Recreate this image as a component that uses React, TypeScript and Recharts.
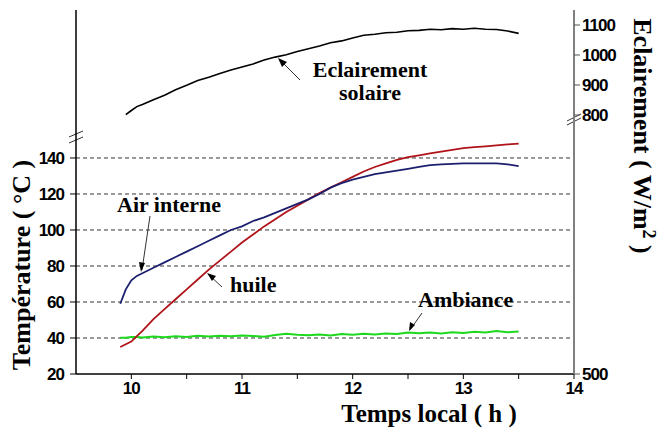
import React from "react";
import { ComposedChart, Line, XAxis, YAxis, CartesianGrid } from "recharts";

const time = [9.9, 9.95, 10.0, 10.05, 10.1, 10.2, 10.3, 10.4, 10.5, 10.6, 10.7, 10.8, 10.9, 11.0, 11.1, 11.2, 11.3, 11.4, 11.5, 11.6, 11.7, 11.8, 11.9, 12.0, 12.1, 12.2, 12.3, 12.4, 12.5, 12.6, 12.7, 12.8, 12.9, 13.0, 13.1, 13.2, 13.3, 13.4, 13.5];
const eclairement = [null, 801, 815, 828, 835, 851, 866, 884, 899, 915, 926, 938, 950, 960, 970, 983, 993, 1001, 1012, 1021, 1030, 1041, 1047, 1057, 1066, 1069, 1074, 1076, 1081, 1082, 1086, 1084, 1088, 1086, 1089, 1086, 1085, 1080, 1072];
const airInterne = [59, 67, 72, 74.5, 76, 79, 82, 85, 88, 91, 94, 97, 100, 102, 105, 107, 109.5, 112, 114.5, 117, 120, 123.5, 126, 128, 129.5, 131, 132, 133, 134, 135, 136, 136.5, 136.7, 137, 137, 137, 137, 136.5, 135.5];
const huile = [35, 36.5, 38, 41, 44, 50.5, 56, 61.5, 67, 72.5, 78, 83, 88, 93, 97.5, 102, 106, 110, 113.5, 117, 120.5, 123.5, 126.5, 129.5, 132.5, 135, 137, 139, 140.5, 141.5, 142.5, 143.5, 144.5, 145.5, 146, 146.5, 147, 147.5, 148];
const ambiance = [40.2, 40.1, 40.5, 40.6, 40.3, 40.8, 40.4, 41.0, 40.6, 41.2, 40.9, 41.3, 41.0, 41.4, 41.1, 40.7, 41.6, 42.3, 41.8, 41.5, 41.9, 41.4, 42.2, 41.8, 42.4, 42.0, 42.5, 42.2, 43.1, 42.6, 43.0, 42.5, 43.2, 42.8, 43.4, 43.0, 43.9, 43.2, 43.6];

const xTicks = [10, 10.5, 11, 11.5, 12, 12.5, 13, 13.5, 14];
const tempTicks = [20, 40, 60, 80, 100, 120, 140];
const gridValues = [40, 60, 80, 100, 120, 140];
const irrTicks = [-63.3, 800, 900, 1000, 1100];
const irrTickLabels = ["500", "800", "900", "1000", "1100"];

const data = time.map((t, i) => ({
  t,
  irr: eclairement[i],
  air: airInterne[i],
  oil: huile[i],
  amb: ambiance[i],
}));

const tickStyle = {
  fontFamily: "Liberation Sans, Arial, sans-serif",
  fontWeight: 700,
  fontSize: 17,
  fill: "#000",
  letterSpacing: -1,
};

const serifBold = {
  fontFamily: "Liberation Serif, Times New Roman, serif",
  fontWeight: 700,
  fill: "#000",
};

export default function App() {
  return (
    <div style={{ position: "absolute", left: 0, top: 0, width: 661, height: 429, background: "#fff" }}>
      <ComposedChart
        width={661}
        height={429}
        data={data}
        margin={{ top: 10, right: 37, bottom: 25, left: 36 }}
      >
        <CartesianGrid
          yAxisId="left"
          vertical={false}
          horizontalValues={gridValues}
          stroke="#333"
          strokeDasharray="4 3"
        />
        <XAxis
          dataKey="t"
          type="number"
          domain={[9.5, 14]}
          ticks={xTicks}
          interval={0}
          allowDataOverflow
          tickFormatter={(v: number) => (Number.isInteger(v) ? String(v) : "")}
          tick={tickStyle}
          tickSize={5}
          tickMargin={3}
          height={30}
          axisLine={{ stroke: "#000", strokeWidth: 1.5 }}
          tickLine={{ stroke: "#000" }}
        />
        <XAxis
          xAxisId="top"
          orientation="top"
          dataKey="t"
          type="number"
          domain={[9.5, 14]}
          tick={false}
          tickLine={false}
          height={0}
          axisLine={{ stroke: "#000" }}
        />
        <YAxis
          yAxisId="left"
          domain={[20, 222.2]}
          ticks={tempTicks}
          interval={0}
          allowDataOverflow
          width={40}
          tick={tickStyle}
          tickSize={6}
          tickMargin={6}
          axisLine={{ stroke: "#000", strokeWidth: 1.5 }}
          tickLine={{ stroke: "#000" }}
        />
        <YAxis
          yAxisId="right"
          orientation="right"
          domain={[-63.3, 1150]}
          ticks={irrTicks}
          interval={0}
          allowDataOverflow
          width={50}
          tick={tickStyle}
          tickFormatter={(v: number) => irrTickLabels[irrTicks.indexOf(v)] ?? String(v)}
          tickSize={6}
          tickMargin={2}
          axisLine={{ stroke: "#808080", strokeWidth: 2 }}
          tickLine={{ stroke: "#555" }}
        />
        <Line yAxisId="right" dataKey="irr" stroke="#000" strokeWidth={1.6} dot={false} isAnimationActive={false} />
        <Line yAxisId="left" dataKey="amb" stroke="#1ed81e" strokeWidth={2} dot={false} isAnimationActive={false} />
        <Line yAxisId="left" dataKey="oil" stroke="#b0141a" strokeWidth={1.8} dot={false} isAnimationActive={false} />
        <Line yAxisId="left" dataKey="air" stroke="#1c1f6e" strokeWidth={1.8} dot={false} isAnimationActive={false} />

        {/* axis break marks */}
        <g stroke="#333" strokeWidth={1}>
          <line x1={69} y1={137} x2={83} y2={131} />
          <line x1={69} y1={143} x2={83} y2={137} />
          <line x1={567} y1={125} x2={581} y2={118} />
          <line x1={567} y1={121} x2={581} y2={114} />
        </g>

        {/* axis titles */}
        <text {...serifBold} fontSize={26} textAnchor="middle" transform="translate(30,265) rotate(-90)">
          Température ( °C )
        </text>
        <text {...serifBold} fontSize={25} textAnchor="middle" x={429} y={422}>
          Temps local ( h )
        </text>
        <text {...serifBold} fontSize={26} textAnchor="middle" transform="translate(634,136) rotate(90)">
          Eclairement ( W/m<tspan dy={-9} fontSize={18}>2</tspan>
          <tspan dy={9}> )</tspan>
        </text>

        {/* annotations */}
        <g stroke="#333" strokeWidth={1} fill="none">
          <line x1={300} y1={80} x2={279} y2={59} />
          <line x1={150} y1={216} x2={142} y2={270} />
          <line x1={222} y1={287} x2={208} y2={274} />
          <line x1={422} y1={313} x2={410} y2={330} />
        </g>
        <g fill="#000">
          <polygon points="278,58 287,62 282,67" />
          <polygon points="141,272 139,262 145,263" />
          <polygon points="207,273 216,276 212,281" />
          <polygon points="409,331 410,322 415,325" />
        </g>
        <text {...serifBold} fontSize={22} textAnchor="middle" x={370} y={77}>Eclairement</text>
        <text {...serifBold} fontSize={22} textAnchor="middle" x={370} y={100}>solaire</text>
        <text {...serifBold} fontSize={22} x={117} y={212}>Air interne</text>
        <text {...serifBold} fontSize={22} x={230} y={292}>huile</text>
        <text {...serifBold} fontSize={22} x={418} y={307}>Ambiance</text>
      </ComposedChart>
    </div>
  );
}
